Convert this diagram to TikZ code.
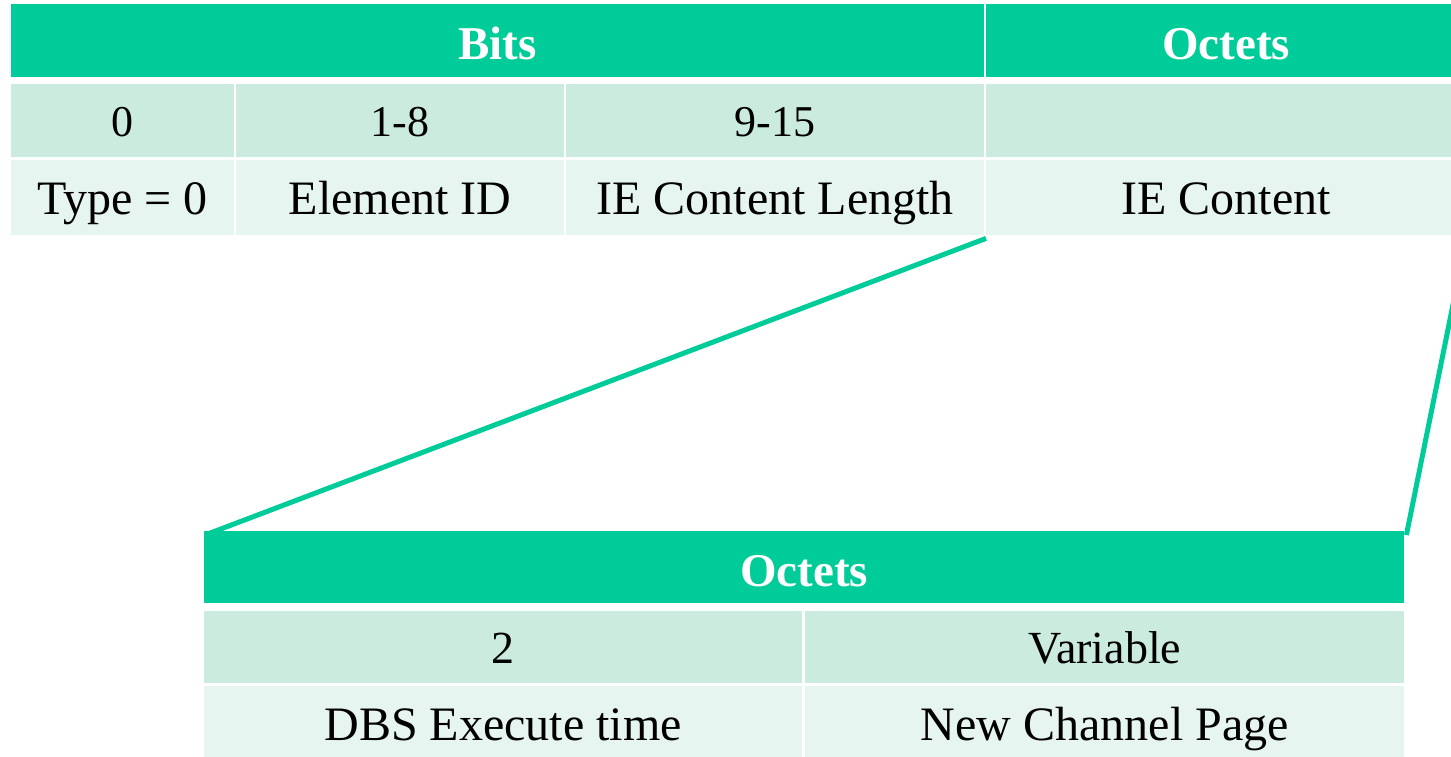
\documentclass[tikz,border=0pt]{standalone}
\usepackage{fontspec}
\setmainfont{Liberation Serif}
\usepackage{tikz}
\usetikzlibrary{arrows}

\definecolor{hdgreen}{RGB}{0,204,153}
\definecolor{midgreen}{RGB}{204,235,223}
\definecolor{lightgreen}{RGB}{230,245,239}

\begin{document}
\begin{tikzpicture}[x=1pt,y=-1pt]

\tikzset{cell/.style = {shape=rectangle,inner sep=0pt,anchor=north west,minimum height=73pt,text depth=0pt}}
\tikzset{head/.style = {cell,fill=hdgreen,text=white,text height=38pt,font=\bfseries\fontsize{47}{50}\selectfont}}
\tikzset{numrow/.style = {cell,fill=midgreen,text height=31pt,font=\fontsize{44}{48}\selectfont}}
\tikzset{namerow/.style = {cell,fill=lightgreen,text height=34pt,font=\fontsize{48}{52}\selectfont,minimum height=75pt}}
\tikzset{zoomline/.style = {draw=hdgreen,line width=5pt}}

\useasboundingbox (0,0) rectangle (1451,756);
\clip (0,0) rectangle (1451,756);

% upper table
\node[head,minimum width=973pt] (bits) at (11,4) {Bits};
\node[head,minimum width=480pt] (octets) at (986,4) {Octets};
\node[numrow,minimum width=223pt] (bzero) at (11,84) {0};
\node[numrow,minimum width=328pt] (bid) at (236,84) {1-8};
\node[numrow,minimum width=418pt] (blen) at (566,84) {9-15};
\node[numrow,minimum width=480pt] (bcont) at (986,84) {};
\node[namerow,minimum width=223pt] (type) at (11,160) {Type = 0};
\node[namerow,minimum width=328pt] (elemid) at (236,160) {Element ID};
\node[namerow,minimum width=418pt] (ielen) at (566,160) {IE Content Length};
\node[namerow,minimum width=480pt] (iecont) at (986,160) {IE Content};

% lower table
\node[head,minimum width=1200pt,minimum height=72pt] (octlow) at (204,531) {Octets};
\node[numrow,minimum width=598pt,minimum height=72pt,font=\fontsize{46}{50}\selectfont,text height=32pt] (two) at (204,611) {2};
\node[numrow,minimum width=599pt,minimum height=72pt,font=\fontsize{46}{50}\selectfont,text height=32pt] (var) at (805,611) {Variable};
\node[namerow,minimum width=598pt] (dbs) at (204,686) {DBS Execute time};
\node[namerow,minimum width=599pt] (newch) at (805,686) {New Channel Page};

% zoom lines
\coordinate (lo) at ([shift={(1pt,-4pt)}]octlow.north west);
\coordinate (ro) at ([shift={(2pt,-4pt)}]octlow.north east);
\draw[zoomline] ([yshift=-3pt]iecont.south west) -- (lo);
\draw[zoomline] ([yshift=-3pt]iecont.south east) -- (ro);
\end{tikzpicture}
\end{document}
